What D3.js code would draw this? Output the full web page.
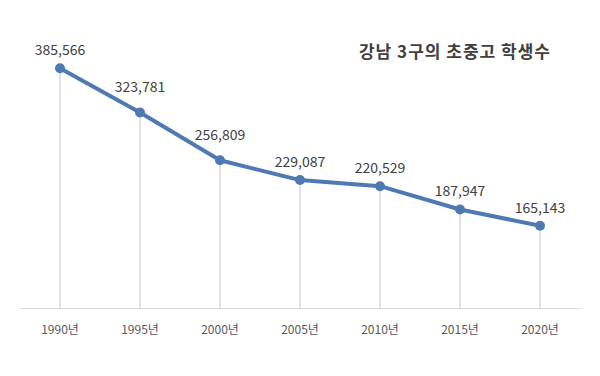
<!DOCTYPE html>
<html>
<head>
<meta charset="utf-8">
<script src="https://cdn.jsdelivr.net/npm/d3@7"></script>
<style>
  body { margin: 0; background: #fff; }
  text { font-family: "Noto Sans CJK KR", "Noto Sans", sans-serif; }
</style>
</head>
<body>
<script>
// data
var years = ["1990년", "1995년", "2000년", "2005년", "2010년", "2015년", "2020년"];
var students = [385566, 323781, 256809, 229087, 220529, 187947, 165143];
var title = "강남 3구의 초중고 학생수";

var width = 600, height = 376;

var svg = d3.select("body").append("svg")
  .attr("width", width)
  .attr("height", height);

// scales
var x = d3.scaleBand()
  .domain(years)
  .range([20, 580]);

var y = d3.scaleLinear()
  .domain([50000, 400000])
  .range([308, 58]);

function cx(d, i) { return x(years[i]) + x.bandwidth() / 2; }

// drop lines
svg.selectAll("line.drop")
  .data(students)
  .enter()
  .append("line")
  .attr("class", "drop")
  .attr("x1", cx)
  .attr("x2", cx)
  .attr("y1", function(d) { return y(d); })
  .attr("y2", y(50000))
  .attr("stroke", "#c4c4c4")
  .attr("stroke-width", 1);

// x axis
var xAxis = svg.append("g")
  .attr("transform", "translate(0," + y(50000) + ")")
  .call(d3.axisBottom(x).tickSize(0).tickPadding(17));
xAxis.select(".domain").attr("stroke", "#d9d9d9");
xAxis.selectAll("text")
  .attr("font-size", "12px")
  .attr("fill", "#595959")
  .style("font-family", "'Noto Sans CJK KR', sans-serif");

// line
var line = d3.line()
  .x(cx)
  .y(function(d) { return y(d); });

svg.append("path")
  .datum(students)
  .attr("d", line)
  .attr("fill", "none")
  .attr("stroke", "#4f79b3")
  .attr("stroke-width", 4)
  .attr("stroke-linejoin", "round");

svg.selectAll("circle")
  .data(students)
  .enter()
  .append("circle")
  .attr("cx", cx)
  .attr("cy", function(d) { return y(d); })
  .attr("r", 5)
  .attr("fill", "#4f79b3");

// labels (Excel pushes them a bit higher on the steep part)
svg.selectAll("text.val")
  .data(students)
  .enter()
  .append("text")
  .attr("class", "val")
  .text(function(d) { return d3.format(",")(d); })
  .attr("x", cx)
  .attr("y", function(d, i) { return y(d) - (i == 1 || i == 2 ? 20 : 13); })
  .attr("text-anchor", "middle")
  .attr("font-size", "14px")
  .attr("fill", "#404040");

// title
svg.append("text")
  .text(title)
  .attr("x", 455)
  .attr("y", 58)
  .attr("text-anchor", "middle")
  .attr("font-size", "17px")
  .attr("letter-spacing", "1px")
  .attr("font-weight", "bold")
  .attr("fill", "#404040");
</script>
</body>
</html>
